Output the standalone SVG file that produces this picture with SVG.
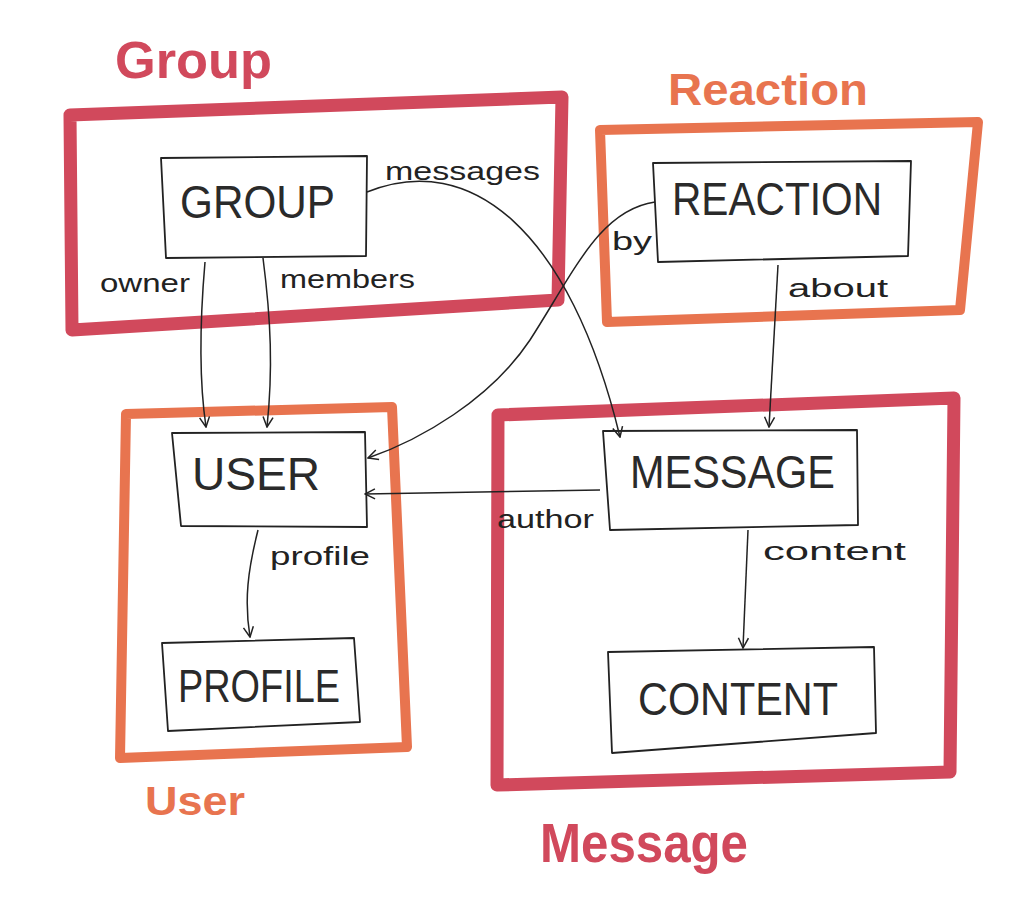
<svg xmlns="http://www.w3.org/2000/svg" width="1023" height="919" viewBox="0 0 1023 919">
<style>
.crim{fill:none;stroke:#d1495c;stroke-width:13;stroke-linejoin:round;stroke-linecap:round}
.orng{fill:none;stroke:#e8744f;stroke-width:10;stroke-linejoin:round;stroke-linecap:round}
.box{fill:none;stroke:#222;stroke-width:1.8;stroke-linejoin:round}
.edge{fill:none;stroke:#222;stroke-width:1.5;marker-end:url(#arr)}
.nt{font-family:"Liberation Sans",Arial,sans-serif;font-size:46px;fill:#2a2a2a}
.et{font-family:"Liberation Sans",Arial,sans-serif;font-size:26px;fill:#222}
.ct{font-family:"Liberation Sans",Arial,sans-serif;font-weight:bold}
</style>
<defs>
<marker id="arr" viewBox="0 0 12 12" refX="11" refY="6" markerWidth="12" markerHeight="12" markerUnits="userSpaceOnUse" orient="auto">
<path d="M1,1 L11,6 L1,11" fill="none" stroke="#222" stroke-width="1.5"/>
</marker>
</defs>
<rect width="1023" height="919" fill="#ffffff"/>

<g id="container-group">
<polygon class="crim" points="70,115 562,97 558,300 72,330"/>
<text class="ct" x="115" y="78" font-size="52" fill="#d1495c" textLength="157" lengthAdjust="spacingAndGlyphs">Group</text>
</g>
<g id="container-reaction">
<polygon class="orng" points="600,130 978,122 960,310 607,322"/>
<text class="ct" x="668" y="105" font-size="44" fill="#e8744f" textLength="200" lengthAdjust="spacingAndGlyphs">Reaction</text>
</g>
<g id="container-user">
<polygon class="orng" points="126,414 392,407 407,747 120,758"/>
<text class="ct" x="145" y="815" font-size="40" fill="#e8744f" textLength="100" lengthAdjust="spacingAndGlyphs">User</text>
</g>
<g id="container-message">
<polygon class="crim" points="498,415 954,398 950,772 497,785"/>
<text class="ct" x="540" y="862" font-size="56" fill="#d1495c" textLength="208" lengthAdjust="spacingAndGlyphs">Message</text>
</g>

<g id="node-group">
<polygon class="box" points="161,158 367,156 366,256 166,258"/>
<text class="nt" x="180" y="218" textLength="155" lengthAdjust="spacingAndGlyphs">GROUP</text>
</g>
<g id="node-reaction">
<polygon class="box" points="653,163 911,161 908,256 658,262"/>
<text class="nt" x="672" y="215" textLength="210" lengthAdjust="spacingAndGlyphs">REACTION</text>
</g>
<g id="node-user">
<polygon class="box" points="172,433 365,432 367,527 181,526"/>
<text class="nt" x="192" y="490" textLength="128" lengthAdjust="spacingAndGlyphs">USER</text>
</g>
<g id="node-profile">
<polygon class="box" points="162,643 354,638 360,722 168,731"/>
<text class="nt" x="178" y="702" textLength="162" lengthAdjust="spacingAndGlyphs">PROFILE</text>
</g>
<g id="node-message">
<polygon class="box" points="603,431 857,430 858,525 610,530"/>
<text class="nt" x="630" y="488" textLength="205" lengthAdjust="spacingAndGlyphs">MESSAGE</text>
</g>
<g id="node-content">
<polygon class="box" points="608,652 874,647 876,733 612,753"/>
<text class="nt" x="638" y="715" textLength="200" lengthAdjust="spacingAndGlyphs">CONTENT</text>
</g>

<g id="connectors">
<path class="edge" d="M205,262 C200,320 199,380 206,427"/>
<path class="edge" d="M263,258 C271,320 273,370 267,427"/>
<path class="edge" d="M367,192 C470,150 570,230 620,437"/>
<path class="edge" d="M655,202 C600,210 575,270 530,340 C490,400 420,440 368,458"/>
<path class="edge" d="M778,265 L769,427"/>
<path class="edge" d="M600,490 L365,494"/>
<path class="edge" d="M258,530 C248,570 244,600 250,637"/>
<path class="edge" d="M748,530 L743,648"/>
</g>

<g id="edge-labels">
<text class="et" x="100" y="292" textLength="90" lengthAdjust="spacingAndGlyphs">owner</text>
<text class="et" x="280" y="288" textLength="135" lengthAdjust="spacingAndGlyphs">members</text>
<text class="et" x="385" y="180" textLength="155" lengthAdjust="spacingAndGlyphs">messages</text>
<text class="et" x="612" y="250" textLength="40" lengthAdjust="spacingAndGlyphs">by</text>
<text class="et" x="788" y="297" textLength="100" lengthAdjust="spacingAndGlyphs">about</text>
<text class="et" x="497" y="528" textLength="97" lengthAdjust="spacingAndGlyphs">author</text>
<text class="et" x="270" y="565" textLength="100" lengthAdjust="spacingAndGlyphs">profile</text>
<text class="et" x="763" y="560" textLength="143" lengthAdjust="spacingAndGlyphs">content</text>
</g>
</svg>
